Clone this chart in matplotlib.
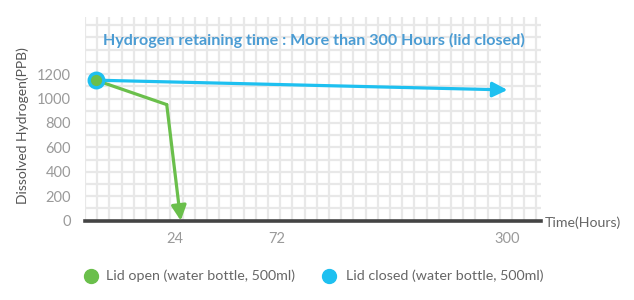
import numpy as np
import matplotlib
matplotlib.use("Agg")
import matplotlib.pyplot as plt
from matplotlib.lines import Line2D

# ---- data ----
open_hours = [0, 21.5, 26.7]
open_ppb = [1150, 950, 0]
closed_hours = [0, 300]
closed_ppb = [1150, 1070]
x_tick_hours = [24, 72, 300]
x_tick_labels = ["24", "72", "300"]
y_tick_values = [0, 200, 400, 600, 800, 1000, 1200]
title = "Hydrogen retaining time : More than 300 Hours (lid closed)"
series_labels = ["Lid open (water bottle, 500ml)", "Lid closed (water bottle, 500ml)"]

GREEN = "#6abf4b"
BLUE = "#1ec0f0"
FONT = ["Lato", "DejaVu Sans"]
plt.rcParams["font.family"] = FONT

W, H = 634, 300
fig = plt.figure(figsize=(W / 100, H / 100), dpi=100)

# axes placement in pixels
L, R, T, B = 85, 541, 17, 220.7
ax = fig.add_axes([L / W, 1 - B / H, (R - L) / W, (B - T) / H])

# non-linear (piecewise) time axis as in the reference
knots_h = np.array([-1000, 0, 24, 72, 300, 1000], float)
knots_p = np.array([95.7 - 3.3 * 1000, 95.7, 175, 277, 507.5, 507.5 + 1.011 * 700])

def fwd(h):
    return np.interp(h, knots_h, knots_p)

def inv(p):
    return np.interp(p, knots_p, knots_h)

ax.set_xscale("function", functions=(fwd, inv))
ax.set_xlim(inv(L), inv(R))
ymax = (B - T) / 0.1222
ax.set_ylim(0, ymax)

# grid
for p in np.arange(L, R - 3, 12.2):
    ax.axvline(inv(p), color="#e8e8e8", lw=1.6, zorder=0)
for v in range(100, 1700, 100):
    ax.axhline(v, color="#e8e8e8", lw=1.6, zorder=0)

ax.set_xticks(x_tick_hours)
ax.set_xticklabels(x_tick_labels)
ax.set_yticks(y_tick_values)
ax.tick_params(axis="both", length=0, colors="#9a9a9a", labelsize=10.5)
ax.tick_params(axis="x", pad=8)
ax.tick_params(axis="y", pad=10)
for s in ["top", "right", "left"]:
    ax.spines[s].set_visible(False)
ax.spines["bottom"].set_color("#444444")
ax.spines["bottom"].set_linewidth(2.6)
ax.patch.set_alpha(0)

fig.text(23 / W, 1 - 126 / H, "Dissolved Hydrogen(PPB)", color="#555555", fontsize=10,
         rotation=90, ha="center", va="center")

# lines with arrows
arrow = "-|>,head_length=0.9,head_width=0.45"
ax.plot(open_hours[:-1], open_ppb[:-1], color=GREEN, lw=2.3, solid_capstyle="round", zorder=3)
ax.annotate("", xy=(open_hours[-1], open_ppb[-1]), xytext=(open_hours[-2], open_ppb[-2]),
            arrowprops=dict(arrowstyle=arrow, color=GREEN, lw=2.3, shrinkA=0, shrinkB=0), zorder=3)
ax.annotate("", xy=(closed_hours[-1], closed_ppb[-1]), xytext=(closed_hours[0], closed_ppb[0]),
            arrowprops=dict(arrowstyle=arrow, color=BLUE, lw=2.3, shrinkA=0, shrinkB=0), zorder=4)
ax.plot([closed_hours[0]], [closed_ppb[0]], marker="o", ms=10.5, mfc=GREEN, mec=BLUE, mew=2.4,
        zorder=5, clip_on=False)

fig.text((R + 4) / W, 1 - 223 / H, "Time(Hours)", color="#666666", fontsize=10.2, va="center", ha="left")
fig.text(313.5 / W, 1 - 40 / H, title, color="#4b9cd3", fontsize=11.6, fontweight="bold",
         ha="center", va="center")

# legend (placed manually)
leg_y = 1 - 276 / H
for color, label, mx, tx in [(GREEN, series_labels[0], 91, 106), (BLUE, series_labels[1], 329, 346)]:
    fig.add_artist(Line2D([mx / W], [leg_y], transform=fig.transFigure, ls="", marker="o",
                          ms=10, color=color))
    fig.text(tx / W, leg_y, label, color="#666666", fontsize=10.3, va="center", ha="left")

fig.savefig("out.png", dpi=100)
